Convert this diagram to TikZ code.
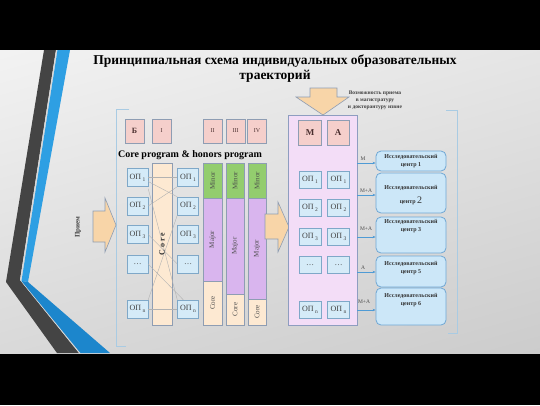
\documentclass[tikz,border=0pt]{standalone}
\usepackage{fontspec}
\setmainfont{Liberation Serif}
\usetikzlibrary{arrows.meta,shadings}
\definecolor{pinkc}{HTML}{F5CFCB}
\definecolor{bordc}{HTML}{8E9DB3}
\definecolor{opfill}{HTML}{D5EBF8}
\definecolor{opbord}{HTML}{7FA8C8}
\definecolor{minorc}{HTML}{93CD6E}
\definecolor{majorc}{HTML}{D9B5EE}
\definecolor{corec}{HTML}{FDE9D2}
\definecolor{purplec}{HTML}{F3DDF7}
\definecolor{purpbord}{HTML}{8E9DC0}
\definecolor{arrowc}{HTML}{F8D5A8}
\definecolor{centerfill}{HTML}{CCE7F8}
\definecolor{centerbord}{HTML}{6FA7D4}
\definecolor{linkc}{HTML}{4F9BD5}
\definecolor{bracketc}{HTML}{A9CBE3}
\definecolor{darkband}{HTML}{444444}
\definecolor{blueband}{HTML}{2E9FE3}
\definecolor{bluebandlow}{HTML}{1C86CC}
\definecolor{txtc}{HTML}{4A2E2E}
\newcommand\opl[1]{ОП\,\raisebox{-1.8pt}{\fontsize{5.5}{6}\selectfont #1}}
\tikzset{
  pinkbox/.style={draw=bordc, fill=pinkc, minimum width=19pt, minimum height=24pt, inner sep=0pt, text=txtc, font=\fontsize{6}{7}\selectfont},
  opbox/.style={draw=opbord, fill=opfill, minimum width=21pt, minimum height=18pt, inner sep=0pt, text=black!75, font=\fontsize{8}{9}\selectfont},
  colbox/.style={draw=bordc, rotate=90, minimum height=19pt, inner sep=0pt, text=black!70, font=\fontsize{7}{8}\selectfont},
  crossline/.style={draw=black!30, line width=0.4pt},
  bigarrow/.style={draw=bordc, fill=arrowc, line width=0.6pt},
  centerbox/.style={draw=centerbord, fill=centerfill, rounded corners=5pt, line width=0.8pt, minimum width=70pt, inner sep=0pt},
  centertxt/.style={align=center, font=\fontsize{6}{7.5}\selectfont\bfseries, text=black!80},
  linklbl/.style={font=\fontsize{5.5}{6}\selectfont, text=black!70, inner sep=0pt},
  link/.style={draw=linkc, line width=0.6pt, -{Stealth[length=3pt,width=2.5pt]}},
  bracket/.style={draw=bracketc, line width=0.7pt}
}
\begin{document}
\begin{tikzpicture}[x=1pt,y=-1pt]
\useasboundingbox (0,0) rectangle (540,405);
\fill[black] (0,0) rectangle (540,405);
\shade[upper left=black!5, upper right=black!10, lower left=black!15, lower right=black!20] (0,50) rectangle (540,353);
% left decoration
\fill[darkband] (44,50) -- (56,50) -- (20,280) -- (79,353) -- (57,353) -- (6,282) -- cycle;
\fill[white!85!black] (56,50) -- (57.5,50) -- (21.5,281) -- (80.5,353) -- (79,353) -- (20,280) -- cycle;
\fill[blueband] (57.5,50) -- (70,50) -- (28,282) -- (21.5,281) -- cycle;
\fill[bluebandlow] (21.5,281) -- (28,282) -- (110,353) -- (80.5,353) -- cycle;
% title
\node[font=\fontsize{13.5}{15}\selectfont\bfseries, align=center] (title) at (275,69) {Принципиальная схема индивидуальных образовательных\\траекторий};
% brackets
\draw[bracket] (129,109) -- (116,109) -- (116,346) -- (126,346);
\draw[bracket] (446,110) -- (457,110) -- (457,333) -- (448,333);
% Priem
\node[rotate=90, font=\fontsize{7}{8}\selectfont\bfseries, text=black!75] (priem) at (78,227) {Прием};
\draw[bigarrow] (93,211) -- (105,211) -- (105,198) -- (116,225) -- (105,252) -- (105,242) -- (93,242) -- cycle;
% top row
\node[pinkbox, font=\fontsize{8}{9}\selectfont\bfseries] (b) at (134.5,131) {Б};
\node[pinkbox] (r1) at (161.5,131) {I};
\node[pinkbox] (r2) at (212.5,131) {II};
\node[pinkbox] (r3) at (235.5,131) {III};
\node[pinkbox] (r4) at (257,131) {IV};
\node[font=\fontsize{10}{11}\selectfont\bfseries] (cph) at (190,155) {Core program \& honors program};
% core column
\node[draw=bordc, fill=corec, rotate=90, minimum width=162pt, minimum height=20pt, inner sep=0pt] (core) at (162,244) {};
% left/right OP
\node[opbox] (l1) at (137.5,177.5) {\opl{1}};
\node[opbox] (l2) at (137.5,206) {\opl{2}};
\node[opbox] (l3) at (137.5,234.5) {\opl{3}};
\node[opbox] (l4) at (137.5,264) {\dots};
\node[opbox] (l5) at (137.5,309) {\opl{n}};
\node[opbox] (q1) at (188,177.5) {\opl{1}};
\node[opbox] (q2) at (188,206) {\opl{2}};
\node[opbox] (q3) at (188,234.5) {\opl{3}};
\node[opbox] (q4) at (188,264) {\dots};
\node[opbox] (q5) at (188,309) {\opl{n}};
% cross lines
\draw[crossline] (l1.east) -- (q1.west);
\draw[crossline] ([yshift=-2pt]l1.south east) -- (q5.north west);
\draw[crossline] ([yshift=-4pt]l1.east) -- (q2.north west);
\draw[crossline] (l2.east) -- (q1.south west);
\draw[crossline] (l3.east) -- (q4.west);
\draw[crossline] (l4.east) -- ([xshift=6pt]q5.north west);
\draw[crossline] (l5.north east) -- (q2.south west);
\draw[crossline] (l5.east) -- (q5.west);
\node[rotate=90, font=\fontsize{8}{9}\selectfont\bfseries, text=black!80] (coretxt) at (core.center) {C o r e};
% columns
\node[colbox, fill=minorc, minimum width=35pt] (mi1) at (212.5,180.5) {Minor};
\node[colbox, fill=majorc, minimum width=83pt] (ma1) at (212.5,239.5) {Major};
\node[colbox, fill=corec, minimum width=44pt] (co1) at (212.5,303) {Core};
\node[colbox, fill=minorc, minimum width=35pt, minimum height=18pt] (mi2) at (235,180.5) {Minor};
\node[colbox, fill=majorc, minimum width=96pt, minimum height=18pt] (ma2) at (235,246) {Major};
\node[colbox, fill=corec, minimum width=31pt, minimum height=18pt] (co2) at (235,309.5) {Core};
\node[colbox, fill=minorc, minimum width=35pt, minimum height=18pt] (mi3) at (257,180.5) {Minor};
\node[colbox, fill=majorc, minimum width=101pt, minimum height=18pt] (ma3) at (257,248.5) {Major};
\node[colbox, fill=corec, minimum width=26pt, minimum height=18pt] (co3) at (257,312) {Core};
% right arrow
\draw[bigarrow] (265,214) -- (278,214) -- (278,202) -- (289,227) -- (278,252) -- (278,239) -- (265,239) -- cycle;
% purple box
\node[draw=purpbord, fill=purplec, minimum width=69pt, minimum height=210pt, inner sep=0pt, line width=0.7pt] (pbox) at (322.5,220) {};
% top arrow
\draw[bigarrow] (310,88) -- (337,88) -- (337,97) -- (349,97) -- (323,115) -- (296,97) -- (310,97) -- cycle;
\node[align=center, font=\fontsize{5.5}{7.2}\selectfont\bfseries, text=black!75] (vozm) at (375,100) {Возможность приема\\в магистратуру\\и докторантуру извне};
\node[pinkbox, minimum width=23pt, minimum height=25pt, font=\fontsize{9}{10}\selectfont\bfseries] (mm) at (310,132.5) {М};
\node[pinkbox, minimum width=22pt, minimum height=25pt, font=\fontsize{9}{10}\selectfont\bfseries] (aa) at (338,132.5) {А};
\node[opbox, minimum width=22pt, minimum height=17pt] (m1) at (310,180) {\opl{1}};
\node[opbox, minimum width=22pt, minimum height=17pt] (m2) at (310,207.5) {\opl{2}};
\node[opbox, minimum width=22pt, minimum height=17pt] (m3) at (310,236.5) {\opl{3}};
\node[opbox, minimum width=22pt, minimum height=17pt] (m4) at (310,265) {\dots};
\node[opbox, minimum width=22pt, minimum height=17pt] (m5) at (310,309.5) {\opl{n}};
\node[opbox, minimum width=22pt, minimum height=17pt] (a1) at (338.5,180) {\opl{1}};
\node[opbox, minimum width=22pt, minimum height=17pt] (a2) at (338.5,207.5) {\opl{2}};
\node[opbox, minimum width=22pt, minimum height=17pt] (a3) at (338.5,236.5) {\opl{3}};
\node[opbox, minimum width=22pt, minimum height=17pt] (a4) at (338.5,265) {\dots};
\node[opbox, minimum width=22pt, minimum height=17pt] (a5) at (338.5,309.5) {\opl{n}};
% research centers
\node[centerbox, minimum height=20pt] (c1) at (411,161) {};
\node[centerbox, minimum height=40pt] (c2) at (411,193) {};
\node[centerbox, minimum height=36pt] (c3) at (411,235) {};
\node[centerbox, minimum height=31pt] (c5) at (411,271.5) {};
\node[centerbox, minimum height=37pt] (c6) at (411,306.5) {};
\node[centertxt] (t1) at (411,161) {Исследовательский\\центр 1};
\node[centertxt, font=\fontsize{6}{7.5}\selectfont\bfseries] (t2a) at (411,188) {Исследовательский};
\node[font=\fontsize{6}{7.5}\selectfont\bfseries, text=black!80] (t2b) at (411,201) {центр {\fontsize{10}{10}\selectfont\mdseries 2}};
\node[centertxt] (t3) at (411,226) {Исследовательский\\центр 3};
\node[centertxt] (t5) at (411,268) {Исследовательский\\центр 5};
\node[centertxt] (t6) at (411,300) {Исследовательский\\центр 6};
% links
\coordinate (s1) at (357,163);
\coordinate (s2) at (357,195);
\coordinate (s3) at (357,237);
\coordinate (s4) at (357,272);
\coordinate (s5) at (357,310);
\draw[link] (s1) -- (s1 -| c1.west);
\draw[link] (s2) -- (s2 -| c2.west);
\draw[link] (s3) -- (s3 -| c3.west);
\draw[link] (s4) -- (s4 -| c5.west);
\draw[link] (s5) -- (s5 -| c6.west);
\node[linklbl] (lb1) at (363,159) {М};
\node[linklbl] (lb2) at (366,191) {М+А};
\node[linklbl] (lb3) at (366,229) {М+А};
\node[linklbl] (lb4) at (363,268) {А};
\node[linklbl] (lb5) at (364,302) {М+А};
\end{tikzpicture}
\end{document}
